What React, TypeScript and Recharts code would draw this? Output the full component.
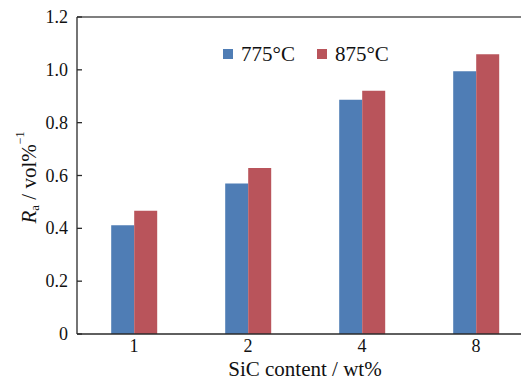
import React from 'react';
import { BarChart, Bar, XAxis, YAxis, Legend, ReferenceLine, Label } from 'recharts';

const categories = ['1', '2', '4', '8'];
const series775 = [0.412, 0.570, 0.887, 0.995];
const series875 = [0.467, 0.628, 0.921, 1.059];
const yTicks = [0, 0.2, 0.4, 0.6, 0.8, 1.0, 1.2];

const data = categories.map((c, i) => ({ c, t775: series775[i], t875: series875[i] }));

const FONT = 'Liberation Serif, Tinos, Times New Roman, DejaVu Serif, serif';
const BLUE = '#4F7DB5';
const RED = '#B9545B';
const AXIS = '#2a2a2a';

const YTick = (props: any) => {
  const { x, y, payload } = props;
  const v = payload.value;
  const txt = v === 0 ? '0' : v.toFixed(1);
  return (
    <g>
      <line x1={x} y1={y} x2={x + 5} y2={y} stroke={AXIS} strokeWidth={1.3} />
      <text x={x - 9} y={y} textAnchor="end" dominantBaseline="central" style={{ fontFamily: FONT }} fontSize={18} fill="#111">
        {txt}
      </text>
    </g>
  );
};

const YLabel = (props: any) => {
  const vb = props.viewBox || {};
  const cx = 21;
  const cy = vb.y + vb.height / 2 + 2;
  return (
    <text x={cx} y={cy} transform={`rotate(-90 ${cx} ${cy})`} textAnchor="middle" dominantBaseline="central" style={{ fontFamily: FONT }} fontSize={21} fill="#111">
      <tspan fontStyle="italic">R</tspan>
      <tspan fontSize={13} dy={5}>a</tspan>
      <tspan dy={-5}> / vol%</tspan>
      <tspan fontSize={12} dy={-9}>−1</tspan>
    </text>
  );
};

const XLabel = (props: any) => {
  const vb = props.viewBox || {};
  return (
    <text x={vb.x + vb.width / 2} y={vb.y + 41.5} textAnchor="middle" style={{ fontFamily: FONT }} fontSize={21} fill="#111">
      SiC content / wt%
    </text>
  );
};

const LegendContent = (props: any) => {
  const items = props.payload || [];
  return (
    <div style={{ display: 'flex', alignItems: 'center', fontFamily: FONT, fontSize: 21, color: '#111', lineHeight: '22px' }}>
      {items.map((it: any, i: number) => (
        <div key={i} style={{ display: 'flex', alignItems: 'center', marginRight: i === 0 ? 22 : 0 }}>
          <span style={{ display: 'inline-block', width: 10, height: 10, background: it.color, marginRight: 8 }} />
          <span>{it.value}</span>
        </div>
      ))}
    </div>
  );
};

export default function App() {
  return (
    <div style={{ width: 521, height: 377, overflow: 'hidden' }}>
      <BarChart
        width={530}
        height={377}
        data={data}
        margin={{ top: 9, right: 5, bottom: 0, left: 0 }}
        barCategoryGap="30%"
        barGap={0}
        style={{ fontFamily: FONT }}
      >
        <XAxis
          dataKey="c"
          height={51}
          tickSize={0}
          tickMargin={5}
          axisLine={{ stroke: AXIS, strokeWidth: 1.3 }}
          tick={{ fontSize: 18, fill: '#111', style: { fontFamily: FONT } }}
        >
          <Label content={<XLabel />} />
        </XAxis>
        <YAxis
          width={69}
          domain={[0, 1.2]}
          ticks={yTicks}
          interval={0}
          tickSize={0}
          tickMargin={0}
          tickLine={false}
          axisLine={{ stroke: AXIS, strokeWidth: 1.3 }}
          tick={<YTick />}
        >
          <Label content={<YLabel />} />
        </YAxis>
        <ReferenceLine y={1.2} stroke="#555" strokeWidth={1.3} />
        <Legend
          layout="horizontal"
          verticalAlign="middle"
          align="center"
          content={<LegendContent />}
          wrapperStyle={{ position: 'absolute', left: 215, top: 35, width: 'auto' }}
        />
        <Bar dataKey="t775" name="775°C" fill={BLUE} isAnimationActive={false} />
        <Bar dataKey="t875" name="875°C" fill={RED} isAnimationActive={false} />
      </BarChart>
    </div>
  );
}
